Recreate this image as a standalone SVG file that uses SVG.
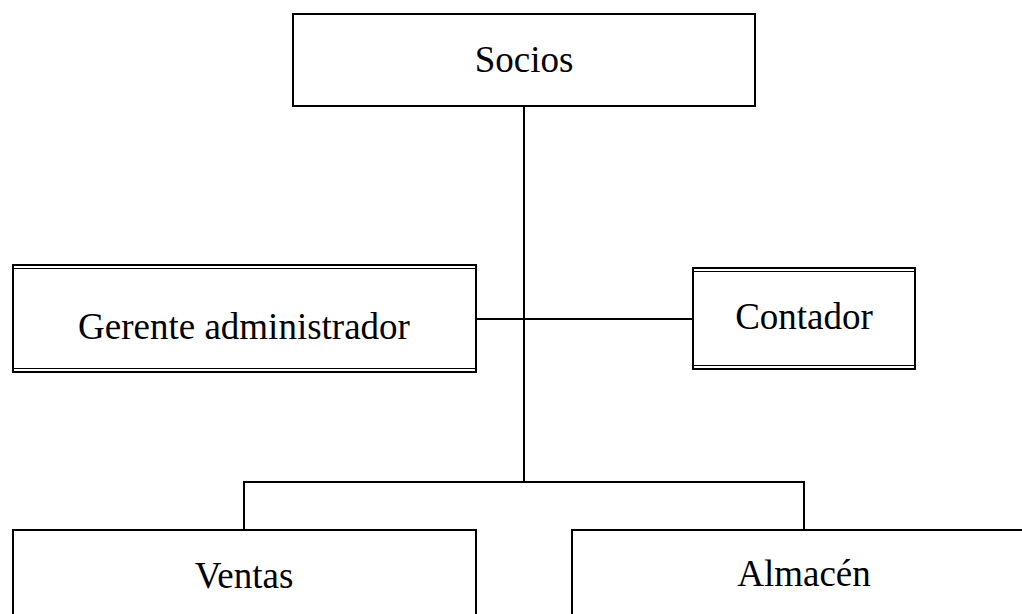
<svg xmlns="http://www.w3.org/2000/svg" width="1022" height="614" viewBox="0 0 1022 614">
<style>
.box{fill:#fff;stroke:#000;stroke-width:2}
.thin{fill:none;stroke:#000;stroke-width:1}
.ln{fill:none;stroke:#000;stroke-width:2}
text{font-family:"Liberation Serif","Times New Roman",serif;font-size:37px;fill:#000;text-anchor:middle}
</style>
<rect width="1022" height="614" fill="#fff"/>
<g id="connectors">
<line class="ln" x1="524" y1="106" x2="524" y2="482"/>
<line class="ln" x1="476" y1="319" x2="693" y2="319"/>
<polyline class="ln" points="244,530 244,482 804,482 804,530"/>
</g>
<g id="socios">
<rect class="box" x="293" y="14" width="462" height="92"/>
<text x="524" y="72">Socios</text>
</g>
<g id="gerente">
<rect class="box" x="13" y="265" width="463" height="107"/>
<line class="thin" x1="13" y1="268.5" x2="476" y2="268.5"/>
<line class="thin" x1="13" y1="368.5" x2="476" y2="368.5"/>
<text x="244" y="339">Gerente administrador</text>
</g>
<g id="contador">
<rect class="box" x="693" y="268" width="222" height="101"/>
<line class="thin" x1="693" y1="271.5" x2="915" y2="271.5"/>
<line class="thin" x1="693" y1="365.5" x2="915" y2="365.5"/>
<text x="804" y="329">Contador</text>
</g>
<g id="ventas">
<rect class="box" x="13" y="530" width="463" height="100"/>
<text x="244" y="588">Ventas</text>
</g>
<g id="almacen">
<rect class="box" x="572" y="530" width="463" height="100"/>
<text x="804" y="586">Almacén</text>
</g>
</svg>
